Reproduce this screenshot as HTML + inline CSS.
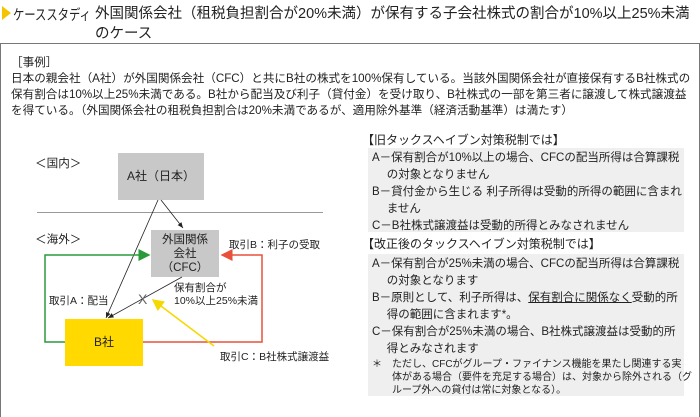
<!DOCTYPE html>
<html><head><meta charset="utf-8"><style>
*{margin:0;padding:0;box-sizing:border-box}
body{width:700px;height:417px;background:#fff;font-family:"Liberation Sans","Noto Sans CJK JP",sans-serif;color:#222;position:relative;overflow:hidden}
.a{position:absolute;white-space:nowrap}
.t{font-size:14.5px}
.s{font-size:11.6px;line-height:16px}
.r{font-size:11.5px;line-height:17px}
.g{position:absolute;background:#efefef}
</style></head><body>
<svg class="a" style="left:2px;top:6px" width="10" height="14"><polygon points="0,0 9,7 0,14" fill="#f5c400"/></svg>
<div class="a t" style="left:13px;top:4px;transform:scaleX(0.78);transform-origin:0 0">ケーススタディ</div>
<div class="a t" style="left:95px;top:4px;line-height:20px">外国関係会社（租税負担割合が20%未満）が保有する子会社株式の割合が10%以上25%未満<br>のケース</div>
<div class="a" style="left:0;top:43px;width:700px;height:374px;border:1.5px solid #777;border-bottom:none"></div>
<div class="a s" style="left:11px;top:55px">［事例］<br>日本の親会社（A社）が外国関係会社（CFC）と共にB社の株式を100%保有している。当該外国関係会社が直接保有するB社株式の<br>保有割合は10%以上25%未満である。B社から配当及び利子（貸付金）を受け取り、B社株式の一部を第三者に譲渡して株式譲渡益<br>を得ている。（外国関係会社の租税負担割合は20%未満であるが、適用除外基準（経済活動基準）は満たす）</div>

<div class="a s" style="left:35px;top:156px">＜国内＞</div>
<div class="a s" style="left:35px;top:232px">＜海外＞</div>
<div class="a" style="left:118px;top:153px;width:86px;height:47px;background:#c8c8c8;font-size:12px;text-align:center;line-height:47px">A社（日本）</div>
<div class="a" style="left:37px;top:212px;width:286px;height:1px;background:#999"></div>
<div class="a" style="left:151px;top:230px;width:68px;height:47px;background:#c8c8c8;font-size:11.5px;text-align:center;line-height:14px;padding-top:3px">外国関係<br>会社<br>（CFC）</div>
<div class="a" style="left:65px;top:319px;width:78px;height:47px;background:#ffd900;font-size:12px;text-align:center;line-height:47px">B社</div>
<svg class="a" style="left:0;top:0" width="700" height="417">
<defs>
<marker id="k" markerWidth="8" markerHeight="8" refX="7" refY="4" orient="auto"><path d="M0,1 L7,4 L0,7z" fill="#222"/></marker>
<marker id="gm" markerWidth="8" markerHeight="8" refX="7" refY="4" orient="auto"><path d="M0,0 L8,4 L0,8z" fill="#2a9a3a"/></marker>
<marker id="rm" markerWidth="8" markerHeight="8" refX="7" refY="4" orient="auto"><path d="M0,0 L8,4 L0,8z" fill="#e8503a"/></marker>
<marker id="ym" markerWidth="8" markerHeight="8" refX="7" refY="4" orient="auto"><path d="M0,0 L8,4 L0,8z" fill="#f5d800"/></marker>
</defs>
<line x1="161" y1="200" x2="183" y2="228" stroke="#222" stroke-width="0.8" marker-end="url(#k)"/>
<line x1="158" y1="200" x2="106" y2="318" stroke="#222" stroke-width="0.8" marker-end="url(#k)"/>
<line x1="182" y1="277" x2="108" y2="318" stroke="#222" stroke-width="0.8" marker-end="url(#k)"/>
<polyline points="65,342 45,342 45,255 149,255" fill="none" stroke="#2a9a3a" stroke-width="1.5" marker-end="url(#gm)"/>
<polyline points="143,342 262,342 262,255 222,255" fill="none" stroke="#e8503a" stroke-width="1.5" marker-end="url(#rm)"/>
<line x1="214" y1="346" x2="153" y2="300" stroke="#f5d800" stroke-width="1.5" marker-end="url(#ym)"/>
<text x="138" y="304" font-size="14" fill="#666" font-family="Liberation Sans">X</text>
</svg>
<div class="a" style="left:229px;top:237px;font-size:10.5px">取引B：利子の受取</div>
<div class="a" style="left:49px;top:293px;font-size:10.5px">取引A：配当</div>
<div class="a" style="left:174px;top:282px;font-size:10.5px;line-height:13px">保有割合が<br>10%以上25%未満</div>
<div class="a" style="left:220px;top:349px;font-size:10.5px">取引C：B社株式譲渡益</div>

<div class="a" style="left:362px;top:131px;font-size:12px">【旧タックスヘイブン対策税制では】</div>
<div class="g" style="left:368px;top:148px;width:316px;height:84px"></div>
<div class="a r" style="left:372px;top:150px">A－保有割合が10%以上の場合、CFCの配当所得は合算課税<br>　 の対象となりません<br>B－貸付金から生じる 利子所得は受動的所得の範囲に含まれ<br>　 ません<br>C－B社株式譲渡益は受動的所得とみなされません</div>
<div class="a" style="left:362px;top:235px;font-size:12px">【改正後のタックスヘイブン対策税制では】</div>
<div class="g" style="left:368px;top:254px;width:316px;height:142px"></div>
<div class="a r" style="left:372px;top:256px">A－保有割合が25%未満の場合、CFCの配当所得は合算課税<br>　 の対象となります<br>B－原則として、利子所得は、<u>保有割合に関係なく</u>受動的所<br>　 得の範囲に含まれます*。<br>C－保有割合が25%未満の場合、B社株式譲渡益は受動的所<br>　 得とみなされます</div>
<div class="a" style="left:372px;top:358px;font-size:10px;line-height:13px">＊　ただし、CFCがグループ・ファイナンス機能を果たし関連する実<br>　　体がある場合（要件を充足する場合）は、対象から除外される（グ<br>　　ループ外への貸付は常に対象となる）。</div>
</body></html>
